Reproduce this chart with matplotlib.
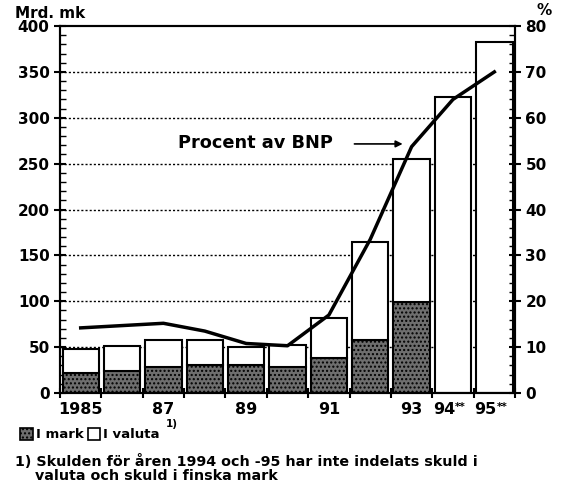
import matplotlib.pyplot as plt
import matplotlib.transforms as mtrans
from matplotlib.patches import Rectangle
import numpy as np

plt.rcParams['font.family'] = ['DejaVu Sans']
plt.rcParams['font.weight'] = 'bold'

years = ["1985", "", "87", "", "89", "", "91", "", "93", "94", "95"]
stars = ["", "", "", "", "", "", "", "", "", "**", "**"]
total = [48, 51.5, 58, 57.5, 50.5, 52, 82, 165, 255, 323, 383]
i_mark = [21.5, 24, 28.5, 31, 30, 28, 38, 58, 99, 0, 0]
procent = [14.2, 14.7, 15.2, 13.5, 10.8, 10.3, 17, 33.5, 53.7, 64, 70]

x = np.arange(len(total))
valuta = [t - m for t, m in zip(total, i_mark)]

fig = plt.figure(figsize=(5.62, 4.82), dpi=100)
ax = fig.add_axes([0.1068, 0.1846, 0.8096, 0.7614])

# grid behind the bars
for v in [50, 100, 150, 200, 250, 300, 350]:
    ax.axhline(v, color='black', lw=1, ls=(0, (1.5, 1.5)), zorder=0)

w = 0.88
ax.bar(x, i_mark, width=w, facecolor='#6e6e6e', edgecolor='black', hatch='....', lw=1.5, zorder=2)
ax.bar(x, valuta, bottom=i_mark, width=w, facecolor='white', edgecolor='black', lw=1.5, zorder=2)

ax.set_xlim(-0.5, 10.5)
ax.set_ylim(0, 400)
ax.set_xticks(np.arange(-0.5, 11, 1))
ax.set_xticklabels([])
ax.tick_params(axis='x', which='major', direction='inout', length=7, width=1.5)

trans = mtrans.blended_transform_factory(ax.transData, ax.transAxes)
for xi, lab, st in zip(x, years, stars):
    if st:
        ax.text(xi + 0.05, -0.045, lab, transform=trans, ha='right', va='center', fontsize=11.5)
        ax.text(xi + 0.05, -0.037, st, transform=trans, ha='left', va='center', fontsize=7.5)
    elif lab:
        ax.text(xi, -0.045, lab, transform=trans, ha='center', va='center', fontsize=11.5)

ax.set_yticks(range(0, 401, 50))
ax.set_yticks(range(0, 401, 10), minor=True)
ax.tick_params(axis='y', which='major', direction='inout', length=8, width=1.5, labelsize=11)
ax.tick_params(axis='y', which='minor', direction='in', length=4, width=1)
for lab in ax.get_yticklabels():
    lab.set_fontweight('bold')
for s in ax.spines.values():
    s.set_linewidth(1.5)

ax2 = ax.twinx()
ax2.set_ylim(0, 80)
ax2.set_yticks(range(0, 81, 10))
ax2.set_yticks(range(0, 81, 2), minor=True)
ax2.tick_params(axis='y', which='major', direction='inout', length=8, width=1.5, labelsize=11)
ax2.tick_params(axis='y', which='minor', direction='in', length=4, width=1)
for lab in ax2.get_yticklabels():
    lab.set_fontweight('bold')
ax2.plot(x, procent, color='black', lw=2.5, zorder=5)
for s in ax2.spines.values():
    s.set_linewidth(1.5)

ax2.text(2.35, 54.6, "Procent av BNP", fontsize=12.8, fontweight='bold', ha='left', va='center')
ax2.annotate("", xy=(7.85, 54.3), xytext=(6.55, 54.3),
             arrowprops=dict(arrowstyle='-|>', color='black', lw=1.2))

fig.text(0.027, 0.972, "Mrd. mk", fontsize=11, fontweight='bold', va='center')
fig.text(0.955, 0.978, "%", fontsize=11, fontweight='bold', va='center')

# legend row
fig.patches.append(Rectangle((20 / 562, 1 - 440 / 482), 13 / 562, 12 / 482, transform=fig.transFigure,
                             facecolor='#6e6e6e', edgecolor='black', hatch='....', lw=1.2))
fig.patches.append(Rectangle((88 / 562, 1 - 440 / 482), 12 / 562, 12 / 482, transform=fig.transFigure,
                             facecolor='white', edgecolor='black', lw=1.2))
fig.text(36 / 562, 1 - 434 / 482, "I mark", fontsize=9.5, va='center')
fig.text(103 / 562, 1 - 434 / 482, "I valuta", fontsize=9.5, va='center')
fig.text(166 / 562, 1 - 424 / 482, "1)", fontsize=7.5, va='center')

fig.text(0.027, 0.027, "1) Skulden för åren 1994 och -95 har inte indelats skuld i\n    valuta och skuld i finska mark",
         fontsize=10.3, fontweight='bold', va='center', linespacing=1.0)

fig.savefig("out.png", dpi=100)
